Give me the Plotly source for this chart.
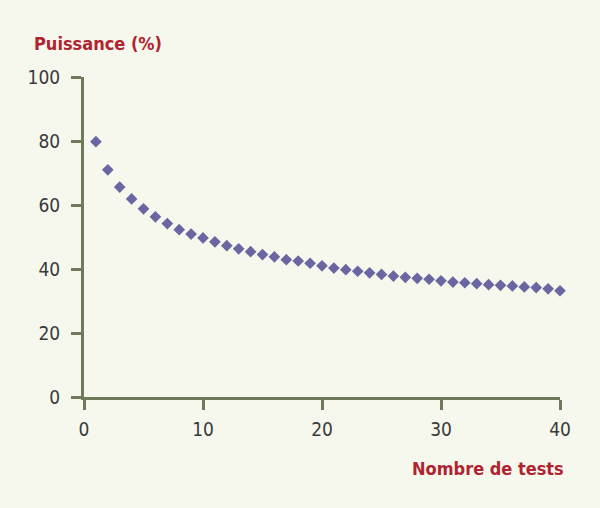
import plotly.graph_objects as go

n_tests = list(range(1, 41))
puissance = [79.8, 71.0, 65.6, 61.9, 58.8, 56.3, 54.2, 52.3, 50.9, 49.7,
             48.5, 47.3, 46.3, 45.4, 44.5, 43.8, 42.9, 42.5, 41.8, 41.0,
             40.3, 39.8, 39.3, 38.8, 38.3, 37.8, 37.4, 37.1, 36.8, 36.3,
             35.9, 35.7, 35.4, 35.1, 34.9, 34.7, 34.4, 34.2, 33.8, 33.2]
x_ticks = [0, 10, 20, 30, 40]
y_ticks = [0, 20, 40, 60, 80, 100]

BG = "#f6f8ee"
AXIS = "#6e7a5b"
MARK = "#6a66a1"
RED = "#b1232f"
FAM = "Liberation Sans Narrow, DejaVu Sans Condensed, sans-serif"
TICKFONT = dict(family=FAM, size=19, color="#3a3a3a")

fig = go.Figure()
fig.add_trace(go.Scatter(x=n_tests, y=puissance, mode="markers",
                         marker=dict(symbol="diamond", size=9, color=MARK),
                         cliponaxis=False, showlegend=False, hoverinfo="skip"))

fig.update_layout(
    width=600, height=508,
    paper_bgcolor=BG, plot_bgcolor=BG,
    margin=dict(l=84, r=40, t=77, b=111),
    xaxis=dict(range=[0, 40], tickvals=x_ticks, showgrid=False, zeroline=False,
               showline=True, linecolor=AXIS, linewidth=3,
               ticks="outside", ticklen=10, tickwidth=3, tickcolor=AXIS,
               ticklabelstandoff=3, tickfont=TICKFONT),
    yaxis=dict(range=[0, 100], tickvals=y_ticks, showgrid=False, zeroline=False,
               showline=True, linecolor=AXIS, linewidth=3,
               ticks="outside", ticklen=10, tickwidth=3, tickcolor=AXIS,
               ticklabelstandoff=7, tickfont=TICKFONT),
    annotations=[
        dict(text="<b>Puissance (%)</b>", xref="paper", yref="paper",
             x=-0.109, y=1.106, xanchor="left", yanchor="middle", showarrow=False,
             font=dict(family=FAM, size=18, color=RED)),
        dict(text="<b>Nombre de tests</b>", xref="paper", yref="paper",
             x=1.0126, y=-0.222, xanchor="right", yanchor="middle", showarrow=False,
             font=dict(family=FAM, size=18, color=RED)),
    ],
)

fig.write_html("out.html", config={"displayModeBar": False},
               post_script="document.body.style.margin='0';document.body.style.background='%s';" % BG)
